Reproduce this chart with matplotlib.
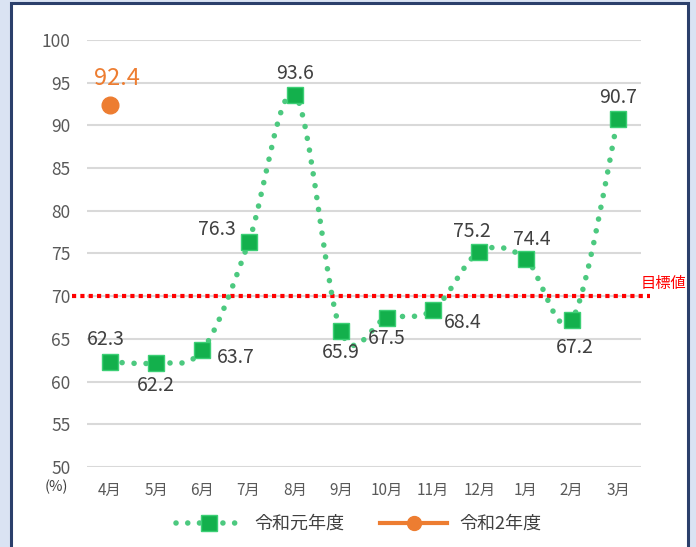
import matplotlib
matplotlib.use("Agg")
import matplotlib.pyplot as plt
import matplotlib.patches as mpatches
from matplotlib.lines import Line2D
from matplotlib.path import Path
import matplotlib.transforms as mtransforms
import numpy as np

plt.rcParams['font.family'] = ['Noto Sans CJK JP', 'DejaVu Sans']

# data
months = ["4月", "5月", "6月", "7月", "8月", "9月", "10月", "11月", "12月", "1月", "2月", "3月"]
r1_values = [62.3, 62.2, 63.7, 76.3, 93.6, 65.9, 67.5, 68.4, 75.2, 74.4, 67.2, 90.7]
r2_values = [92.4]
target = 70
series_names = ["令和元年度", "令和2年度"]
yticks = [50, 55, 60, 65, 70, 75, 80, 85, 90, 95, 100]

# label offsets in pixels (dx, dy) for 令和元年度
label_offsets = [(-4, 22), (0, -23), (33, -7), (-32, 13), (0, 21), (0, -21),
                 (0, -21), (30, -13), (-8, 20), (6, 19), (3, -27), (0, 22)]

GREEN_LINE = "#4cc97f"
GREEN_MARK = "#13b04c"
ORANGE = "#ed7d31"
TXT = "#404040"
TICK = "#595959"
DOTS = (0, (0.01, 2.15))

fig = plt.figure(figsize=(6.96, 5.47), dpi=100)
fig.patch.set_facecolor("#dae3f3")
panel = mpatches.Rectangle((11 / 696, -0.02), 677 / 696, 1.02 - 2.5 / 547,
                           transform=fig.transFigure, facecolor="white",
                           edgecolor="#2b3f6b", linewidth=2.2, zorder=-1)
fig.add_artist(panel)

ax = fig.add_axes([87 / 696, 1 - 467 / 547, 554 / 696, 427 / 547])
ax.set_facecolor("none")
ax.set_xlim(-0.5, len(months) - 0.5)
ax.set_ylim(50, 100)

for y in yticks:
    ax.axhline(y, color="#d9d9d9", linewidth=1.5, zorder=1)

for s in ax.spines.values():
    s.set_visible(False)
ax.set_yticks(yticks)
ax.set_yticklabels([str(v) for v in yticks], fontsize=12.5, color=TICK)
ax.set_xticks(range(len(months)))
ax.set_xticklabels(months, fontsize=11, color=TICK)
ax.tick_params(length=0)
ax.tick_params(axis='y', pad=12)
ax.tick_params(axis='x', pad=11)
ax.text(-0.055, -0.046, "(%)", transform=ax.transAxes, fontsize=10.5,
        color=TXT, ha="center", va="center")

# target line
trans = mtransforms.blended_transform_factory(ax.transAxes, ax.transData)
ax.plot([-0.027, 1.016], [target, target], transform=trans, color="#ff0000",
        linewidth=3, linestyle=(0, (1, 1)), solid_capstyle="butt",
        dash_capstyle="butt", clip_on=False, zorder=2)
ax.text(1.04, target + 1.5, "目標値", transform=trans, color="#ff0000",
        fontsize=11, ha="center", va="center")

# smoothed line through the points
x = np.arange(len(r1_values), dtype=float)
y = np.array(r1_values, dtype=float)
pts = np.column_stack([x, y])
verts = [pts[0]]
codes = [Path.MOVETO]
n = len(pts)
for i in range(n - 1):
    p_prev = pts[i - 1] if i > 0 else pts[i]
    p_next2 = pts[i + 2] if i + 2 < n else pts[i + 1]
    c1 = pts[i] + (pts[i + 1] - p_prev) / 6
    c2 = pts[i + 1] - (p_next2 - pts[i]) / 6
    verts += [c1, c2, pts[i + 1]]
    codes += [Path.CURVE4] * 3
curve = mpatches.PathPatch(Path(verts, codes), fill=False, edgecolor=GREEN_LINE,
                           linewidth=4.0, linestyle=DOTS,
                           capstyle="round", zorder=3)
ax.add_patch(curve)
ax.plot(x, y, linestyle="none", marker="s", markersize=11,
        markerfacecolor=GREEN_MARK, markeredgecolor="#3ccf75",
        markeredgewidth=1, zorder=4)

for xi, yi, (dx, dy) in zip(x, y, label_offsets):
    ax.annotate(f"{yi:.1f}", (xi, yi), xytext=(dx, dy), textcoords="offset pixels",
                ha="center", va="center", fontsize=14, color=TXT, zorder=5)

# 令和2年度
ax.plot([0], r2_values, linestyle="none", marker="o", markersize=12,
        color=ORANGE, zorder=4)
ax.annotate(f"{r2_values[0]:.1f}", (0, r2_values[0]), xytext=(7, 26),
            textcoords="offset pixels", ha="center", va="center",
            fontsize=17, color=ORANGE, zorder=5)

handles = [
    Line2D([], [], color=GREEN_LINE, linewidth=4.0, linestyle=(0, (0.01, 2.1)),
           dash_capstyle="round", marker="s", markersize=11,
           markerfacecolor=GREEN_MARK, markeredgecolor="#3ccf75"),
    Line2D([], [], color=ORANGE, linewidth=3, marker="o", markersize=10),
]
fig.legend(handles, series_names, loc="center", bbox_to_anchor=(0.515, 1 - 524 / 547),
           ncol=2, frameon=False, fontsize=13, handlelength=3.7,
           columnspacing=2.0, handletextpad=0.65, labelcolor=TXT)

fig.savefig("out.png", dpi=100, facecolor=fig.get_facecolor())
